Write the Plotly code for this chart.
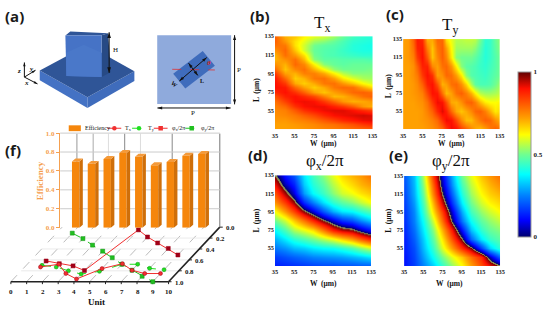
import math
import plotly.graph_objects as go

W, H = 550, 313

# ---------- data ----------
tick_um = [35, 55, 75, 95, 115, 135]
L_ticks = [55, 75, 95, 115, 135]

tx_W = [35, 45, 55, 65, 75, 85, 95, 105, 115, 125, 135]
tx_L = [35, 40, 45, 50, 55, 60, 65, 70, 75, 80, 85, 90, 95, 100, 105, 110, 115, 120, 125, 130, 135]
# one list per W column, from L=35 to L=135
tx_by_W = [
    [.72,.72,.73,.74,.75,.76,.78,.82,.87,.90,.90,.89,.85,.79,.74,.70,.70,.74,.78,.80,.80],
    [.72,.72,.73,.75,.76,.79,.84,.88,.90,.89,.85,.79,.72,.68,.70,.74,.78,.79,.77,.73,.70],
    [.72,.73,.75,.77,.81,.86,.90,.90,.86,.79,.71,.67,.70,.75,.79,.78,.73,.68,.65,.65,.68],
    [.73,.74,.76,.80,.86,.90,.91,.87,.80,.72,.67,.70,.76,.78,.75,.69,.65,.58,.58,.60,.63],
    [.74,.75,.78,.83,.89,.91,.90,.83,.72,.67,.71,.77,.76,.70,.63,.52,.50,.49,.50,.54,.60],
    [.75,.77,.81,.87,.91,.91,.85,.76,.68,.71,.77,.78,.71,.62,.52,.48,.47,.47,.48,.52,.58],
    [.76,.78,.84,.90,.92,.88,.79,.69,.72,.77,.78,.72,.63,.53,.49,.48,.46,.46,.47,.49,.54],
    [.77,.80,.87,.91,.92,.85,.73,.70,.75,.79,.73,.64,.56,.50,.48,.47,.45,.44,.45,.46,.49],
    [.78,.82,.89,.92,.90,.80,.70,.74,.79,.78,.68,.59,.52,.50,.49,.47,.44,.42,.42,.43,.45],
    [.79,.85,.91,.93,.87,.73,.71,.78,.80,.71,.62,.55,.52,.50,.49,.47,.43,.41,.41,.42,.43],
    [.80,.87,.92,.92,.84,.70,.73,.80,.78,.65,.58,.54,.52,.51,.49,.46,.43,.41,.40,.41,.42],
]

ty_W = [35, 40, 45, 50, 55, 60, 65, 70, 75, 80, 85, 90, 95, 100, 105, 110, 115, 120, 125, 130, 135]
ty_L = [35, 45, 55, 65, 75, 85, 95, 105, 115, 125, 135]
# one list per L row, from W=35 to W=135
ty_by_L = [
    [.72,.72,.72,.72,.72,.73,.74,.76,.79,.85,.91,.90,.84,.80,.75,.71,.69,.72,.77,.80,.78],
    [.72,.72,.72,.72,.73,.74,.76,.79,.86,.91,.90,.83,.75,.69,.69,.73,.77,.80,.79,.74,.70],
    [.72,.72,.72,.72,.73,.76,.80,.87,.92,.88,.79,.71,.68,.71,.75,.79,.80,.76,.70,.64,.66],
    [.72,.72,.72,.73,.74,.78,.85,.91,.90,.82,.71,.70,.74,.79,.80,.76,.69,.64,.62,.62,.63],
    [.72,.72,.73,.74,.76,.83,.90,.89,.78,.69,.72,.78,.80,.76,.70,.63,.56,.54,.54,.55,.57],
    [.72,.72,.73,.75,.80,.88,.90,.82,.70,.72,.78,.79,.74,.66,.55,.48,.46,.46,.47,.50,.54],
    [.72,.72,.74,.77,.85,.90,.86,.72,.74,.79,.78,.72,.64,.52,.47,.46,.45,.44,.46,.48,.50],
    [.72,.72,.74,.80,.88,.88,.75,.72,.78,.79,.73,.63,.52,.48,.47,.46,.44,.43,.45,.47,.50],
    [.72,.73,.76,.85,.90,.81,.68,.75,.80,.75,.64,.52,.50,.50,.50,.48,.45,.42,.44,.47,.50],
    [.72,.73,.78,.88,.89,.76,.68,.77,.80,.72,.62,.54,.54,.54,.54,.52,.47,.42,.44,.48,.52],
    [.72,.73,.80,.89,.87,.70,.71,.79,.79,.65,.60,.56,.56,.57,.57,.56,.50,.43,.44,.49,.53],
]

ph_W = [35, 45, 55, 65, 75, 85, 95, 105, 115, 125, 135]
ph_L = [35, 45, 55, 65, 75, 85, 95, 105, 115, 125, 135]
# phase / 2pi, carried on past 1 where the map wraps from dark red to navy; one list per W column
phix_by_W = [
    [.13,.17,.24,.30,.38,.50,.62,.74,.82,.91,1.00],
    [.14,.19,.27,.36,.46,.58,.73,.85,.96,1.06,1.12],
    [.15,.21,.31,.42,.55,.68,.84,.97,1.08,1.14,1.20],
    [.16,.23,.33,.46,.60,.78,.98,1.15,1.28,1.33,1.36],
    [.17,.25,.36,.50,.65,.88,1.08,1.25,1.38,1.42,1.45],
    [.18,.26,.38,.55,.76,.99,1.20,1.35,1.44,1.48,1.52],
    [.18,.27,.39,.60,.88,1.08,1.30,1.43,1.52,1.56,1.60],
    [.19,.28,.42,.66,.94,1.16,1.36,1.48,1.58,1.62,1.66],
    [.19,.30,.46,.72,.97,1.20,1.38,1.52,1.61,1.66,1.70],
    [.20,.32,.52,.80,1.05,1.27,1.43,1.57,1.65,1.70,1.73],
    [.20,.35,.58,.88,1.12,1.33,1.48,1.62,1.68,1.73,1.78],
]
# one list per L row, from L=35 to L=135
phiy_by_L = [
    [.12,.17,.25,.33,.43,.53,.62,.72,.82,.91,.99],
    [.12,.18,.28,.39,.50,.60,.68,.78,.87,1.06,1.22],
    [.13,.19,.31,.44,.59,.73,.87,.98,1.17,1.34,1.43],
    [.13,.21,.33,.48,.64,.82,1.00,1.22,1.36,1.44,1.48],
    [.14,.23,.36,.52,.70,.90,1.12,1.32,1.43,1.49,1.52],
    [.15,.25,.39,.58,.78,1.02,1.24,1.39,1.48,1.53,1.57],
    [.16,.26,.43,.65,.84,1.08,1.30,1.45,1.53,1.58,1.62],
    [.17,.28,.46,.70,.93,1.16,1.37,1.50,1.58,1.63,1.66],
    [.18,.30,.49,.76,1.00,1.22,1.42,1.54,1.62,1.67,1.70],
    [.19,.31,.52,.80,1.05,1.27,1.46,1.57,1.65,1.70,1.74],
    [.20,.32,.55,.85,1.08,1.30,1.50,1.60,1.68,1.73,1.78],
]

units = [1, 2, 3, 4, 5, 6, 7, 8, 9]
efficiency = [.70, .675, .727, .79, .75, .66, .695, .76, .78]
tx_depth = [.73, .68, .85, .95, .76, .67, .79, .85, .85]
ty_depth = [.70, .73, .80, .86, .81, .68, .68, .755, .78]
phix_depth = [.62, .67, .71, .795, .05, .18, .29, .39, .51]
phiy_depth = [.11, .21, .33, .44, .56, .68, .79, .90, 1.0]
eff_ticks = [0, .2, .4, .6, .8, 1.0]
depth_ticks = [0, .2, .4, .6, .8, 1.0]
unit_ticks = list(range(11))


def transpose(rows):
    return [list(c) for c in zip(*rows)]


JET = [[0, "#00006e"], [.1, "#0000ff"], [.25, "#0080ff"], [.38, "#00ffff"], [.5, "#70ff90"],
       [.62, "#ffff00"], [.72, "#ffa000"], [.9, "#ff1000"], [1, "#600000"]]
PERIODIC = [[p / 2, c] for p, c in JET[:-1]] + [[.491, "#800000"], [.494, "#8a8a50"], [.506, "#8a8a50"], [.509, "#00006e"]]
PERIODIC += [[.5 + p / 2, c] for p, c in JET[1:]]

SERIF = "Liberation Serif"
fig = go.Figure()


def dom_x(a, b):
    return [a / W, b / W]


def dom_y(top, bot):
    return [1 - bot / H, 1 - top / H]


# full-page pixel axes for the floor of panel (f), the drawings and the texts
fig.update_layout(
    xaxis=dict(domain=[0, 1], range=[0, W], visible=False, fixedrange=True),
    yaxis=dict(domain=[0, 1], range=[H, 0], visible=False, fixedrange=True),
)

shapes, notes = [], []


def poly(pts, fill, line=None, lw=0):
    d = "M" + " L".join(f"{x},{y}" for x, y in pts) + " Z"
    shapes.append(dict(type="path", path=d, xref="x", yref="y", fillcolor=fill,
                       line=dict(color=line or fill, width=lw), layer="below"))


def seg(x0, y0, x1, y1, color, lw=1, dash="solid", layer="below"):
    shapes.append(dict(type="line", x0=x0, y0=y0, x1=x1, y1=y1, xref="x", yref="y",
                       line=dict(color=color, width=lw, dash=dash), layer=layer))


def text(x, y, s, size=7, color="#111", family=SERIF, angle=0, xa="center"):
    notes.append(dict(x=x, y=y, xref="x", yref="y", text=s, showarrow=False, xanchor=xa, yanchor="middle",
                      textangle=angle, font=dict(size=size, color=color, family=family)))


def arrow(x0, y0, x1, y1, color="#111", both=True, size=5, lw=1):
    to_end = math.degrees(math.atan2(x1 - x0, -(y1 - y0)))
    xs, ys, ang = ([x1], [y1], [to_end])
    if both:
        xs, ys, ang = [x0, x1], [y0, y1], [to_end + 180, to_end]
    fig.add_trace(go.Scatter(x=[x0, x1], y=[y0, y1], mode="lines", line=dict(color=color, width=lw),
                             xaxis="x", yaxis="y", hoverinfo="skip", showlegend=False))
    fig.add_trace(go.Scatter(x=xs, y=ys, mode="markers",
                             marker=dict(symbol="arrow", size=size, angle=ang, color=color, line=dict(width=0)),
                             xaxis="x", yaxis="y", hoverinfo="skip", showlegend=False))


# ---------- heat maps (b)-(e) ----------
panels = [
    ("2", tx_W, tx_L, transpose(tx_by_W), JET, 1, (276, 375, 33, 128.5), True),
    ("3", ty_W, ty_L, ty_by_L, JET, 1, (406, 504, 36, 128.5), False),
    ("4", ph_W, ph_L, transpose(phix_by_W), PERIODIC, 2, (276, 373.5, 175.7, 269), False),
    ("5", ph_W, ph_L, phiy_by_L, PERIODIC, 2, (407, 504.5, 176.5, 269), False),
]
axfont = dict(size=6.3, family=SERIF, color="#222")
for k, xs, ys, z, cs, zmax, (x0, x1, y0, y1), scale in panels:
    tr = go.Heatmap(x=xs, y=ys, z=z, colorscale=cs, zmin=0, zmax=zmax, zsmooth="best", xaxis="x" + k, yaxis="y" + k,
                    hoverinfo="skip", showscale=scale)
    if scale:
        tr.colorbar = dict(x=522.7 / W, xanchor="left", xpad=0, ypad=0, y=1 - 154.3 / H, yanchor="middle",
                           lenmode="pixels", len=165, thicknessmode="pixels", thickness=12.6,
                           tickvals=[0, .5, 1], ticktext=["<b>0</b>", "<b>0.5</b>", "<b>1</b>"], ticks="",
                           tickfont=dict(size=7, family=SERIF, color="#222"), outlinecolor="#999", outlinewidth=1)
    fig.add_trace(tr)
    fig.update_layout({
        "xaxis" + k: dict(domain=dom_x(x0, x1), range=[35, 135], anchor="y" + k, tickvals=tick_um,
                          ticktext=[f"<b>{v}</b>" for v in tick_um], ticks="", tickfont=axfont, showgrid=False,
                          zeroline=False, fixedrange=True, showline=False, ticklabelstandoff=1),
        "yaxis" + k: dict(domain=dom_y(y0, y1), range=[35, 135], anchor="x" + k, tickvals=L_ticks,
                          ticktext=[f"<b>{v}</b>" for v in L_ticks], ticks="", tickfont=axfont, showgrid=False,
                          zeroline=False, fixedrange=True, showline=False, ticklabelstandoff=0),
    })

for x, y in [(325, 143.5), (455, 143.5), (325, 287), (453, 287)]:
    text(x, y, "<b>W  (μm)</b>", size=7.5)
for x, y in [(257, 88), (392, 84), (257, 222), (391, 222)]:
    text(x, y, "<b>L  (μm)</b>", size=7.5, angle=-90)
text(324, 21, "T<sub>x</sub>", size=17)
text(454, 23, "T<sub>y</sub>", size=17)
text(327, 162, "φ<sub>x</sub>/2π", size=17)
text(455, 162, "φ<sub>y</sub>/2π", size=17)

for x, y, s in [(12, 12, "(a)"), (261, 12, "(b)"), (398, 10, "(c)"), (259, 155, "(d)"), (401, 155, "(e)"), (10.5, 150, "(f)")]:
    text(x, y, f"<b>{s}</b>", size=15, family="Open Sans", color="#1a1a1a")

# ---------- panel (a): drawings ----------
poly([(37.3, 68.3), (85.7, 95.7), (85.7, 106.7), (37.3, 78.3)], "#4472c4")
poly([(133.3, 69), (85.7, 95.7), (85.7, 106.7), (133.3, 79)], "#3f6cbc")
poly([(37.3, 68.3), (85.7, 42), (133.3, 69), (85.7, 95.7)], "#2f5597")
poly([(63.3, 32.3), (68.3, 28.3), (106.7, 30), (100, 32)], "#2f5597")
poly([(100, 32), (106.7, 30), (109.3, 70), (100, 75)], "#274a85")
poly([(63.3, 32.3), (100, 32), (100, 75), (64.3, 74)], "#4673c6")
poly([(64, 50), (82, 41.7), (100, 50), (100, 75), (64.3, 74)], "#4a78c9")
arrow(107.7, 29, 107.7, 70.7, size=6)
text(114, 47.5, "H", size=7)
arrow(21.7, 75, 21.7, 60, both=False, size=4)
arrow(21.7, 75, 33, 68, both=False, size=4)
arrow(21.7, 75, 35, 82, both=False, size=4)
text(16.7, 69, "<i><b>z</b></i>", size=7)
text(29, 66.5, "<i><b>y</b></i>", size=7)
text(24, 81, "<i><b>x</b></i>", size=7)

poly([(156.5, 32), (231.5, 32), (231.5, 102.7), (156.5, 102.7)], "#8faadc")
poly([(202.7, 48.3), (215, 63.3), (185, 86.7), (172.7, 71.7)], "#3f6cbc")
seg(171.7, 67, 215, 67.7, "#e03030", .8, "dash")
arrow(179, 79, 206.7, 55, size=5)
arrow(188.3, 60.7, 197.7, 73.3, size=5)
arrow(156.7, 106.7, 231, 106.7, size=5)
arrow(235, 32, 235, 103, size=5)
text(193.3, 111.7, "P", size=7)
text(239, 67.7, "P", size=7)
text(173.3, 82.3, "<b>W</b>", size=6, angle=40)
text(201.7, 79, "<b>L</b>", size=6)
text(209, 60.7, "<b><i>θ</i></b>", size=7, color="#d02020")


# ---------- panel (f): oblique floor ----------
def px(u, d):
    return 8 + 16 * u + 52 * (1 - d)


def py(d):
    return 285 - 56 * (1 - d)


for u in unit_ticks:
    seg(px(u, 1), py(1), px(u, 0), py(0), "#aaaaaa", .8, "dash")
    seg(px(u, 1), 285, px(u, 1), 287.5, "#222", 1)
    text(px(u, 1) + .5, 295.7, f"<b>{u}</b>", size=7)
for d in depth_ticks[1:-1]:
    seg(px(0, d), py(d), px(10, d), py(d), "#e4e4e4", .8)
seg(8, 285, 168, 285, "#222", 1.6)
seg(px(10, 1), py(1), px(10, 0), py(0), "#222", 1.6)
for d in depth_ticks:
    seg(px(10, d), py(d), px(10, d) + 3, py(d), "#222", 1)
    text(px(10, d) + 4.5, py(d) + .4, f"<b>{d:.1f}</b>", size=6.8, xa="left")
text(95, 306, "<b>Unit</b>", size=9)
text(37.5, 181, "<b>Efficiency</b>", size=9, color="#f5a050", angle=-90)

# back wall
for x, c, top, bot in [(75, "#999", 133, 165), (91.5, "#aaa", 133, 165), (107, "#ddd", 133, 165),
                       (123.5, "#888", 133, 155), (139.5, "#ddd", 133, 160), (171.7, "#888", 133, 165),
                       (220, "#777", 133, 229)]:
    seg(x, top, x, bot, c, 1)
for e in eff_ticks[1:]:
    seg(58, 229.5 - 97 * e, 220, 229.5 - 97 * e, "#cccccc", 1)

series = [
    (phiy_depth, "#20c020", "dash", "square", "#109010"),
    (ty_depth, "#20e020", "dash", "circle", "#109010"),
    (phix_depth, "#f03030", "solid", "square", "#a00018"),
    (tx_depth, "#f03030", "solid", "circle", "#a00018"),
]
for depth, col, dash, sym, edge in series:
    fig.add_trace(go.Scatter(
        x=[px(u, d) for u, d in zip(units, depth)], y=[py(d) for d in depth], mode="lines+markers",
        line=dict(color=col, width=1, dash=dash),
        marker=dict(symbol=sym, size=4, color=edge if sym == "square" and col == "#f03030" else col,
                    line=dict(color=edge, width=.5)),
        hoverinfo="skip", showlegend=False, xaxis="x", yaxis="y"))

# ---------- panel (f): bars ----------
bw, dx, dy = 7.5 / 16, 3.5 / 16, 3 / 97
fig.add_trace(go.Bar(x=units, y=efficiency, width=bw, marker=dict(color="#f5860c", line=dict(width=0)),
                     xaxis="x6", yaxis="y6", hoverinfo="skip", showlegend=False))
sx, sy, tx, ty = [], [], [], []
for u, e in zip(units, efficiency):
    r = u + bw / 2
    l = u - bw / 2
    sx += [r, r + dx, r + dx, r, None]
    sy += [0, dy, e + dy, e, None]
    tx += [l, l + dx, r + dx, r, None]
    ty += [e, e + dy, e + dy, e, None]
fig.add_trace(go.Scatter(x=sx, y=sy, fill="toself", fillcolor="#cf6f0a", mode="none", xaxis="x6", yaxis="y6",
                         hoverinfo="skip", showlegend=False))
fig.add_trace(go.Scatter(x=tx, y=ty, fill="toself", fillcolor="#f49a3a", mode="none", xaxis="x6", yaxis="y6",
                         hoverinfo="skip", showlegend=False))
fig.update_layout(
    xaxis6=dict(domain=dom_x(57.75, 217.75), range=[0, 10], visible=False, anchor="y6", fixedrange=True),
    yaxis6=dict(domain=dom_y(132.5, 229.5), range=[0, 1], anchor="x6", tickvals=eff_ticks,
                ticktext=[f"<b>{v:.1f}</b>" for v in eff_ticks], ticks="outside", ticklen=3, tickcolor="#f5a050",
                tickfont=dict(size=7, family=SERIF, color="#f5a050"), showline=True, linecolor="#f5a050", linewidth=1,
                showgrid=False, zeroline=False, fixedrange=True),
    barmode="overlay",
)

# legend of panel (f)
poly([(66.7, 124.5), (79, 124.5), (79, 130.5), (66.7, 130.5)], "#f5860c")
text(81, 127.5, "Efficiency", size=6, xa="left")
leg = [(106, 120, "#f03030", "solid", "circle", "T<sub>x</sub>", 122),
       (131, 145, "#20e020", "dash", "circle", "T<sub>y</sub>", 145.5),
       (153, 167, "#f03030", "solid", "square", "φ<sub>x</sub>/2π", 169.5),
       (185, 198, "#20c020", "dash", "square", "φ<sub>y</sub>/2π", 198.5)]
for a, b, col, dash, sym, lab, tx_pos in leg:
    fig.add_trace(go.Scatter(x=[a, (a + b) / 2, b], y=[127.5] * 3, mode="lines",
                             line=dict(color=col, width=1, dash=dash), xaxis="x", yaxis="y",
                             hoverinfo="skip", showlegend=False))
    fig.add_trace(go.Scatter(x=[(a + b) / 2], y=[127.5], mode="markers", marker=dict(symbol=sym, size=4.5, color=col),
                             xaxis="x", yaxis="y", hoverinfo="skip", showlegend=False))
    text(tx_pos, 127.5, lab, size=6, xa="left")

fig.update_layout(width=W, height=H, margin=dict(l=0, r=0, t=0, b=0), paper_bgcolor="white", plot_bgcolor="rgba(0,0,0,0)",
                  showlegend=False, shapes=shapes, annotations=notes)
fig.write_html("out.html", config=dict(displayModeBar=False),
               post_script="document.body.style.margin='0';document.documentElement.style.overflow='hidden';")
